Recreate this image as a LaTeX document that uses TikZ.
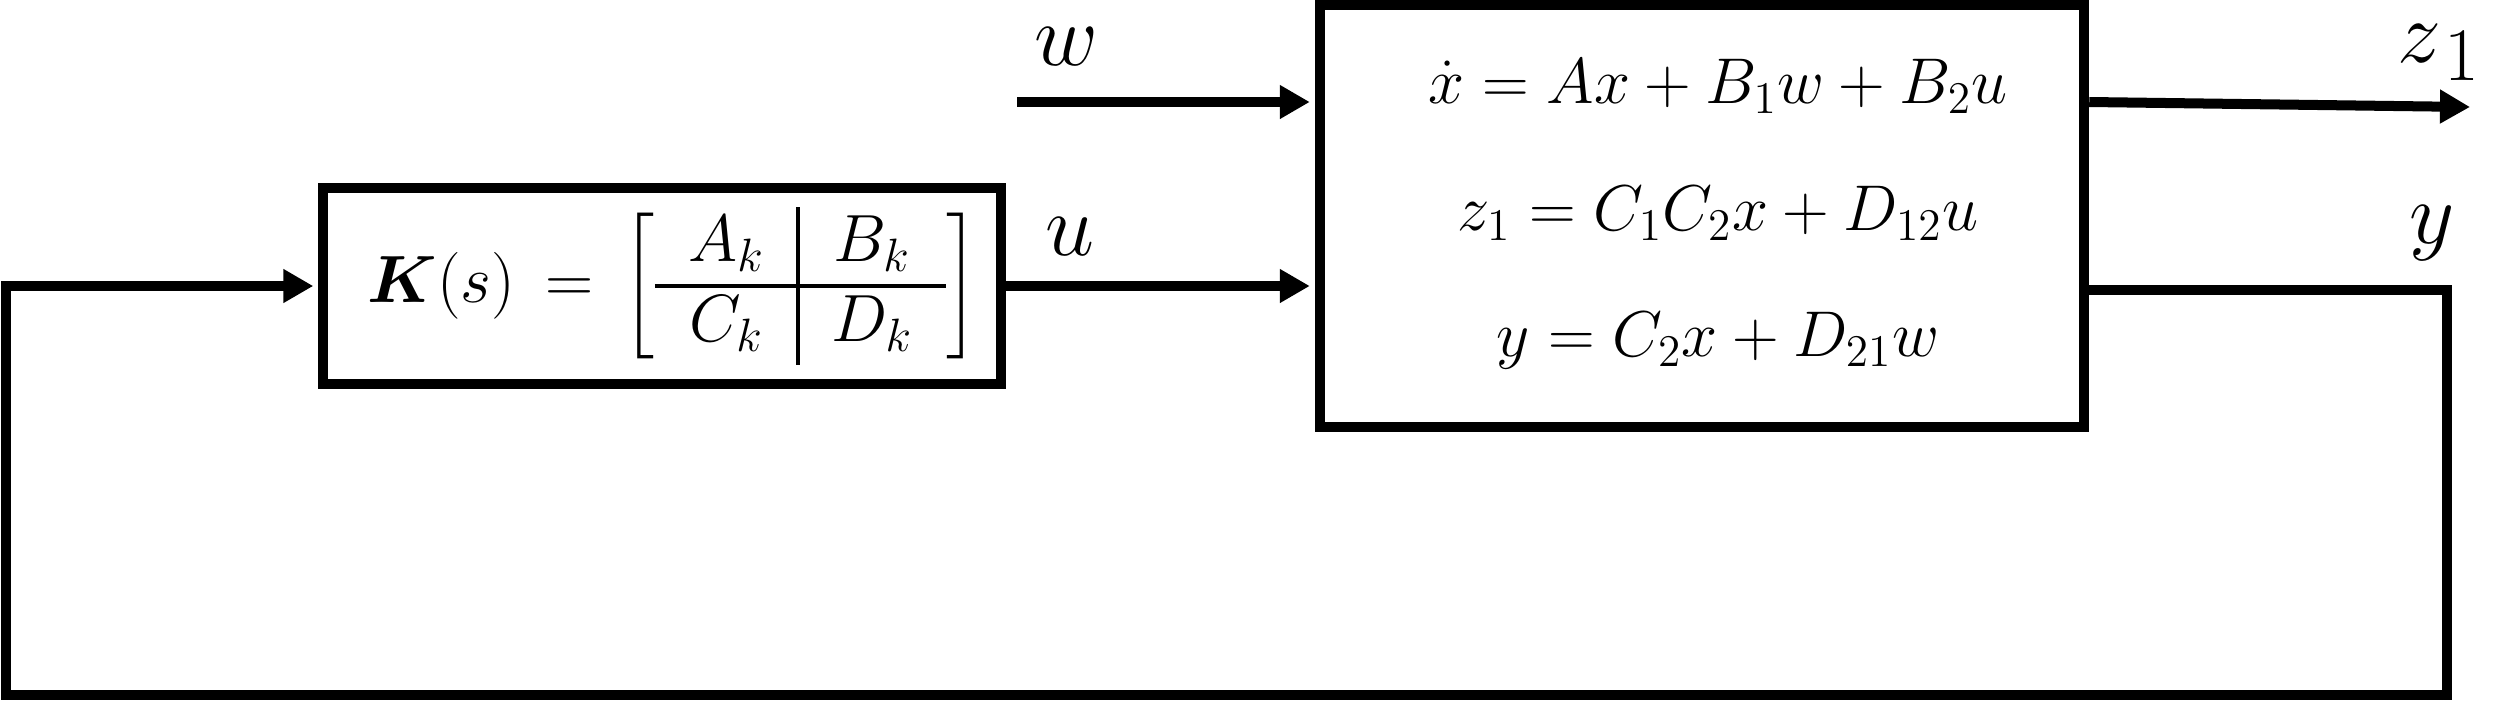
\RequirePackage{fix-cm}
\documentclass[tikz,border=0pt]{standalone}
\usepackage{amsmath,bm}
\usetikzlibrary{arrows.meta}
\begin{document}
\begin{tikzpicture}[x=0.01cm,y=-0.01cm,
  blk/.style={draw,line width=0.1cm,inner sep=0pt},
  conn/.style={line width=0.1cm},
  arr/.style={-{Triangle[length=0.3cm,width=0.32cm]}},
  lbl/.style={anchor=base,inner sep=0pt,font=\fontsize{25}{25}\selectfont},
  eqfont/.style={font=\fontsize{18.4}{36}\selectfont},
  kfont/.style={font=\fontsize{19}{22}\selectfont}]
\useasboundingbox (0,0) rectangle (2500,703);
% controller block
\node[blk,kfont,minimum width=6.77cm,minimum height=1.96cm] (K) at (662,286)
  {\hspace*{0.22cm}\arraycolsep=9.5pt\arrayrulewidth=0.9pt$\bm{K}(s) \,=\, \biggl[\begin{array}{c|c} A_k & B_k \\ \hline C_k & D_k \end{array}\biggr]$};
% plant block
\node[blk,eqfont,minimum width=7.64cm,minimum height=4.21cm] (P) at (1702,216)
  {\hspace*{0.32cm}\raisebox{0.11cm}[\height][\depth]{\begin{tabular}{@{}c@{}}$\dot{x} = Ax + B_1w + B_2u$\\ $z_1 = C_1C_2x + D_{12}u$\\ $y = C_2x + D_{21}w$\end{tabular}}};
% coordinates
\coordinate (win) at (1017,102);
\coordinate (zend) at (2470,107);
\coordinate (yc1) at (2447,290);
\coordinate (yc2) at (2447,695);
\coordinate (yc3) at (6,695);
\coordinate (yc4) at (yc3 |- K.west);
% connectors
\draw[conn,arr,shorten >=0.05cm] (win) -- (win -| P.west);
\draw[conn,arr,shorten >=0.05cm] (K.east) -- (K.east -| P.west);
\draw[conn,arr] (P.east |- win) -- (zend);
\draw[conn,arr,shorten >=0.05cm] (P.east |- yc1) -- (yc1) -- (yc2) -- (yc3) -- (yc4) -- (K.west);
% labels
\node[lbl] (lw) at (1066,65) {$w$};
\node[lbl] (lu) at (1070,255) {$u$};
\node[lbl,anchor=base west] (lz) at (2397,62) {$z_{\mkern2mu\mbox{\fontsize{21.5}{21.5}\selectfont$1$}}$};
\node[lbl] (ly) at (2432,243) {$y$};
\end{tikzpicture}
\end{document}
